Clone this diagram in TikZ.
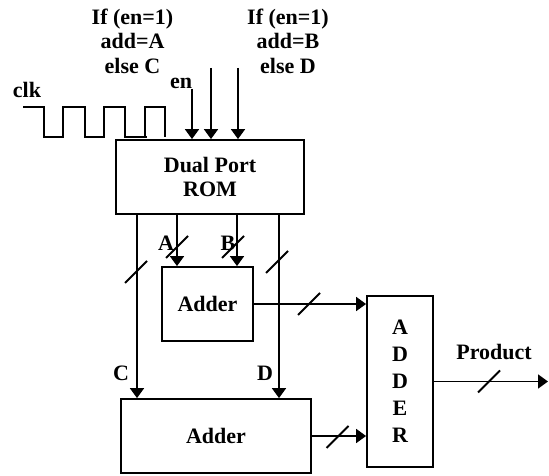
\documentclass[tikz,border=0pt]{standalone}
\usepackage{fontspec}
\setmainfont{Liberation Serif}
\usetikzlibrary{arrows.meta}
\tikzset{
  block/.style={draw,inner sep=0pt,align=center},
  lbl/.style={inner sep=0pt,align=center},
  pics/busmark/.style={code={\draw (-11,11) -- (11,-11);}}
}

\begin{document}
\begin{tikzpicture}[x=1pt,y=-1pt,line width=1.8pt,
  font=\fontsize{22}{24.5}\selectfont\bfseries,
  >={Triangle[length=10pt,width=14pt]}]
  \useasboundingbox (0,0) rectangle (549,476);
  % blocks
  \node[block,minimum width=188pt,minimum height=74pt] (rom) at (210,177) {Dual Port\\ROM};
  \node[block,minimum width=91pt,minimum height=74pt] (adda) at (207.5,304) {Adder};
  \node[block,minimum width=190pt,minimum height=74pt] (addb) at (216,436) {Adder};
  \node[block,minimum width=66pt,minimum height=171pt,font=\fontsize{22}{27}\selectfont\bfseries] (addr) at (400,381.5) {A\\D\\D\\E\\R};
  % labels
  \node[lbl] (conda) at (132.5,41) {If (en=1)\\add=A\\else C};
  \node[lbl] (condb) at (288,41) {If (en=1)\\add=B\\else D};
  \node[lbl] (clk) at (27,90) {clk};
  \node[lbl] (en) at (181,83) {en};
  \node[lbl] (la) at (166,243) {A};
  \node[lbl] (lb) at (228,243) {B};
  \node[lbl] (lc) at (121,373) {C};
  \node[lbl] (ld) at (265,373) {D};
  \node[lbl] (prodl) at (494,352) {Product};
  % clock
  \draw (23,107) -- (44,107) -- (44,137) -- (63,137) -- (63,107) -- (85,107) -- (85,137)
    -- (104,137) -- (104,107) -- (125,107) -- (125,137) -- (147,137)
    (145,137) -- (145,107) -- (165,107) -- (165,137);
  % inputs
  \coordinate (enin) at (192,89);
  \coordinate (ina) at (211,68);
  \coordinate (inb) at (238,68);
  \foreach \p in {enin,ina,inb} \draw[->] (\p) -- (\p |- rom.north);
  % rom outputs
  \coordinate (xc) at (137,0);
  \coordinate (xa) at (177,0);
  \coordinate (xb) at (237,0);
  \coordinate (xd) at (279,0);
  \draw[->] (rom.south -| xa) -- (xa |- adda.north);
  \draw[->] (rom.south -| xb) -- (xb |- adda.north);
  \draw[->] (rom.south -| xc) -- (xc |- addb.north);
  \draw[->] (rom.south -| xd) -- (xd |- addb.north);
  \draw[->] (adda.east) -- (adda.east -| addr.west);
  \draw[->] (addb.east) -- (addb.east -| addr.west);
  \coordinate (prod) at (548,0);
  \draw[->] (addr.east) -- (addr.east -| prod);
  % bus widths
  \pic at (177,247) {busmark};
  \pic at (233,247) {busmark};
  \pic at (136,272) {busmark};
  \pic at (277,262) {busmark};
  \pic at (309,304) {busmark};
  \pic at (337.5,437) {busmark};
  \pic at (489,381.5) {busmark};
\end{tikzpicture}
\end{document}
